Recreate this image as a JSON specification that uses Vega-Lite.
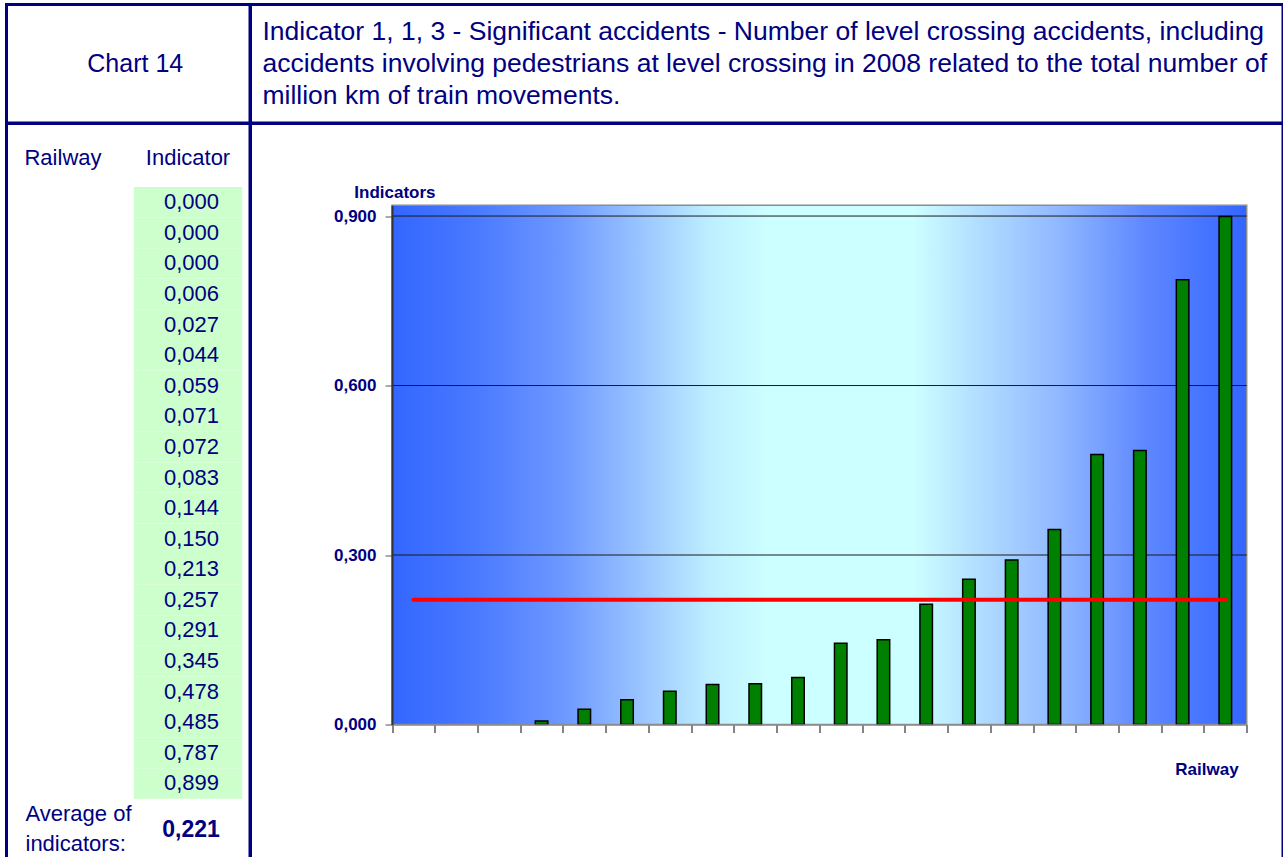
{
  "$schema": "https://vega.github.io/schema/vega-lite/v6.json",
  "padding": {"left": 4.5, "top": 2.5, "right": 0, "bottom": 0},
  "background": "white",
  "columns": 2,
  "spacing": 0,
  "bounds": "flush",
  "config": {
    "view": {"stroke": "#000080", "strokeWidth": 3, "fill": null},
    "font": "Liberation Sans",
    "text": {"font": "Liberation Sans", "color": "#000080"},
    "locale": {"number": {"decimal": ",", "thousands": ".", "grouping": [3], "currency": ["", " €"]}}
  },
  "concat": [
    {
      "width": 243.5,
      "height": 118.5,
      "data": {"values": [{"label": "Chart 14"}]},
      "mark": {"type": "text", "fontSize": 25, "color": "#000080", "dx": 7},
      "encoding": {
        "x": {"field": "label", "type": "nominal", "axis": null},
        "y": {"field": "label", "type": "nominal", "axis": null},
        "text": {"field": "label"}
      }
    },
    {
      "width": 1032.5,
      "height": 118.5,
      "data": {"values": [
        {"part": "title", "line": 1, "text": "Indicator 1, 1, 3 - Significant accidents - Number of level crossing accidents, including"},
        {"part": "title", "line": 2, "text": "accidents involving pedestrians at level crossing in 2008 related to the total  number of"},
        {"part": "title", "line": 3, "text": "million km of train movements."}
      ]},
      "mark": {"type": "text", "fontSize": 26.5, "align": "left", "color": "#000080", "dx": 12},
      "encoding": {
        "x": {"field": "part", "type": "nominal", "axis": null, "scale": {"type": "band", "paddingInner": 0, "paddingOuter": 0}, "bandPosition": 0},
        "y": {"field": "line", "type": "ordinal", "axis": null, "scale": {"type": "point", "padding": 0.85}},
        "text": {"field": "text"}
      }
    },
    {
      "width": 243.5,
      "height": 737,
      "layer": [
        {
          "data": {"name": "rows"},
          "mark": {"type": "rect", "fill": "#ccffcc"},
          "encoding": {
            "x": {"datum": "Indicator", "type": "nominal",
              "scale": {"type": "band", "domain": ["Railway", "Indicator"], "range": [2.3, 235.7], "paddingInner": 0.133, "paddingOuter": 0},
              "axis": {"orient": "top", "title": null, "ticks": false, "domain": false, "labelAngle": 0, "labelFontSize": 22, "labelFont": "Liberation Sans", "labelColor": "#000080", "labelPadding": 0, "offset": -40.5, "labelBaseline": "alphabetic", "zindex": 1}},
            "y": {"field": "row", "type": "ordinal", "axis": null,
              "scale": {"type": "band", "domain": [1,2,3,4,5,6,7,8,9,10,11,12,13,14,15,16,17,18,19,20,21], "range": [63.5, 705.8], "paddingInner": 0, "paddingOuter": 0}}
          }
        },
        {
          "data": {"name": "rows"},
          "mark": {"type": "text", "fontSize": 22, "align": "right", "dx": 31, "color": "#000080"},
          "encoding": {
            "x": {"datum": "Indicator", "type": "nominal"},
            "y": {"field": "row", "type": "ordinal"},
            "text": {"field": "value", "type": "quantitative", "format": ".3f"}
          }
        },
        {
          "data": {"name": "average"},
          "mark": {"type": "text", "fontSize": 22, "align": "left", "dx": -37.5, "dy": 0, "lineBreak": "\n", "lineHeight": 30, "color": "#000080"},
          "encoding": {
            "x": {"datum": "Railway", "type": "nominal"},
            "y": {"field": "row", "type": "ordinal"},
            "text": {"field": "label"}
          }
        },
        {
          "data": {"name": "average"},
          "mark": {"type": "text", "fontSize": 23, "fontWeight": "bold", "align": "center", "dx": 3, "dy": 16, "color": "#000080"},
          "encoding": {
            "x": {"datum": "Indicator", "type": "nominal"},
            "y": {"field": "row", "type": "ordinal"},
            "text": {"field": "value", "type": "quantitative", "format": ".3f"}
          }
        }
      ]
    },
    {
      "width": 1032.5,
      "height": 737,
      "layer": [
        {
          "data": {"values": [{"panel": "plot"}]},
          "mark": {"type": "rect", "stroke": "#8c8c8c", "strokeWidth": 1.5,
            "fill": {"gradient": "linear", "x1": 0, "y1": 0, "x2": 1, "y2": 0, "stops": [
              {"offset": 0, "color": "#3366ff"},
              {"offset": 0.1, "color": "#4a7aff"},
              {"offset": 0.2, "color": "#6d98ff"},
              {"offset": 0.3, "color": "#9ec9ff"},
              {"offset": 0.37, "color": "#bdeeff"},
              {"offset": 0.44, "color": "#ccffff"},
              {"offset": 0.61, "color": "#ccffff"},
              {"offset": 0.69, "color": "#b0dcff"},
              {"offset": 0.78, "color": "#90b8ff"},
              {"offset": 0.88, "color": "#5f88ff"},
              {"offset": 1, "color": "#3366ff"}
            ]}},
          "encoding": {
            "x": {"datum": 0.5, "type": "quantitative",
              "scale": {"domain": [0.5, 20.5], "range": [141.5, 996.2], "nice": false, "zero": false, "padding": 0},
              "axis": {"values": [0.5,1.5,2.5,3.5,4.5,5.5,6.5,7.5,8.5,9.5,10.5,11.5,12.5,13.5,14.5,15.5,16.5,17.5,18.5,19.5,20.5], "labels": false, "grid": false, "offset": -136, "tickSize": 8, "tickColor": "#333333", "tickWidth": 1.2, "domainColor": "#8c8c8c", "domainWidth": 1.5, "zindex": 1,
                "title": "Railway", "titleFont": "Liberation Sans", "titleFontSize": 17, "titleFontWeight": "bold", "titleColor": "#000080", "titleX": 956, "titleY": 50, "titleAlign": "center", "titleBaseline": "alphabetic"}},
            "x2": {"datum": 20.5},
            "y": {"datum": 0, "type": "quantitative",
              "scale": {"domain": [0, 0.919], "range": [601, 81.8], "nice": false, "zero": true, "padding": 0},
              "axis": {"values": [0, 0.3, 0.6, 0.9], "format": ".3f", "grid": false, "offset": -141.5, "tickSize": 7, "tickColor": "#555555", "domainColor": "#333333", "domainWidth": 2, "labelPadding": 9, "labelFont": "Liberation Sans", "labelFontSize": 17, "labelFontWeight": "bold", "labelColor": "#000080", "zindex": 1,
                "title": "Indicators", "titleFont": "Liberation Sans", "titleFontSize": 17, "titleFontWeight": "bold", "titleColor": "#000080", "titleAngle": 0, "titleX": 2.4, "titleY": 74.2, "titleAlign": "center", "titleBaseline": "alphabetic"}},
            "y2": {"datum": 0.919}
          }
        },
        {
          "data": {"values": [{"grid": 0.3}, {"grid": 0.6}, {"grid": 0.9}]},
          "mark": {"type": "rule", "color": "#1a1a1a", "strokeWidth": 1},
          "encoding": {
            "x": {"datum": 0.5, "type": "quantitative"},
            "x2": {"datum": 20.5},
            "y": {"field": "grid", "type": "quantitative"}
          }
        },
        {
          "data": {"name": "rows"},
          "transform": [{"filter": "datum.value > 0"}],
          "mark": {"type": "bar", "width": 12.5, "fill": "#008000", "stroke": "#000000", "strokeWidth": 1.5},
          "encoding": {
            "x": {"field": "row", "type": "quantitative"},
            "y": {"field": "value", "type": "quantitative"}
          }
        },
        {
          "data": {"name": "average"},
          "mark": {"type": "rule", "color": "#ff0000", "strokeWidth": 4, "strokeCap": "round"},
          "encoding": {
            "x": {"datum": 1, "type": "quantitative"},
            "x2": {"datum": 20},
            "y": {"field": "value", "type": "quantitative"}
          }
        }
      ]
    }
  ],
  "datasets": {
    "rows": [
      {"row": 1, "value": 0.000},
      {"row": 2, "value": 0.000},
      {"row": 3, "value": 0.000},
      {"row": 4, "value": 0.006},
      {"row": 5, "value": 0.027},
      {"row": 6, "value": 0.044},
      {"row": 7, "value": 0.059},
      {"row": 8, "value": 0.071},
      {"row": 9, "value": 0.072},
      {"row": 10, "value": 0.083},
      {"row": 11, "value": 0.144},
      {"row": 12, "value": 0.150},
      {"row": 13, "value": 0.213},
      {"row": 14, "value": 0.257},
      {"row": 15, "value": 0.291},
      {"row": 16, "value": 0.345},
      {"row": 17, "value": 0.478},
      {"row": 18, "value": 0.485},
      {"row": 19, "value": 0.787},
      {"row": 20, "value": 0.899}
    ],
    "average": [
      {"row": 21, "value": 0.221, "label": "Average of\nindicators:"}
    ]
  }
}
